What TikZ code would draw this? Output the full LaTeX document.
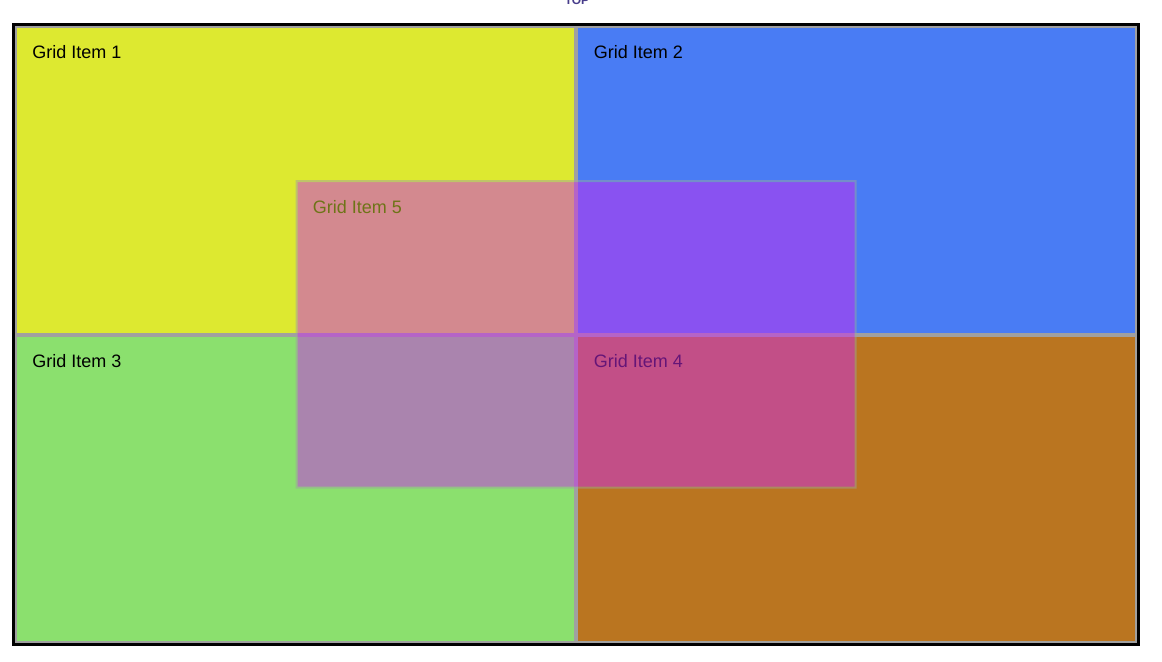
\documentclass[tikz,border=0pt]{standalone}
\usepackage{fontspec}
\setmainfont{Liberation Sans}
\definecolor{cyellow}{RGB}{221,233,48}
\definecolor{cblue}{RGB}{73,124,244}
\definecolor{cgreen}{RGB}{139,224,110}
\definecolor{corange}{RGB}{186,117,32}
\definecolor{cmag}{RGB}{202,42,239}
\definecolor{cborder}{RGB}{160,160,160}
\definecolor{ctop}{RGB}{72,61,139}
\begin{document}
\begin{tikzpicture}[x=0.75pt,y=-0.75pt,
  item/.style={draw=cborder, line width=1.5pt, anchor=north west, inner sep=0pt, outer sep=0pt,
    minimum width=419.25pt, minimum height=229.875pt},
  lbl/.style={anchor=base west, inner sep=0pt, font=\fontsize{13.5}{16}\selectfont, text=black}]
\useasboundingbox (0,0) rectangle (1162,661);
\clip (0,0) rectangle (1162,661);
\fill[white] (0,0) rectangle (1162,661);
\node[anchor=base, inner sep=0pt, text=ctop, font=\fontsize{9}{10}\selectfont\bfseries] (top) at (577,4) {TOP};
% items (outer size 561 x 308.5 px)
\node[item, fill=cyellow] (i1) at (16,27) {};
\node[item, fill=cblue]   (i2) at (577,27) {};
\node[item, fill=cgreen]  (i3) at (16,335.5) {};
\node[item, fill=corange] (i4) at (577,335.5) {};
\node[lbl] (t1) at (32,58.5) {Grid Item 1};
\node[lbl] (t2) at (593.5,58.5) {Grid Item 2};
\node[lbl] (t3) at (32,367) {Grid Item 3};
\node[lbl] (t4) at (593.5,367) {Grid Item 4};
\begin{scope}[transparency group, opacity=0.5]
  \node[item, fill=cmag] (i5) at (296.5,181) {};
  \node[lbl] (t5) at (312.5,213) {Grid Item 5};
\end{scope}
% container border
\draw[black, line width=2.25pt] (13.5,24.5) rectangle (1138.5,644.5);
\end{tikzpicture}
\end{document}
